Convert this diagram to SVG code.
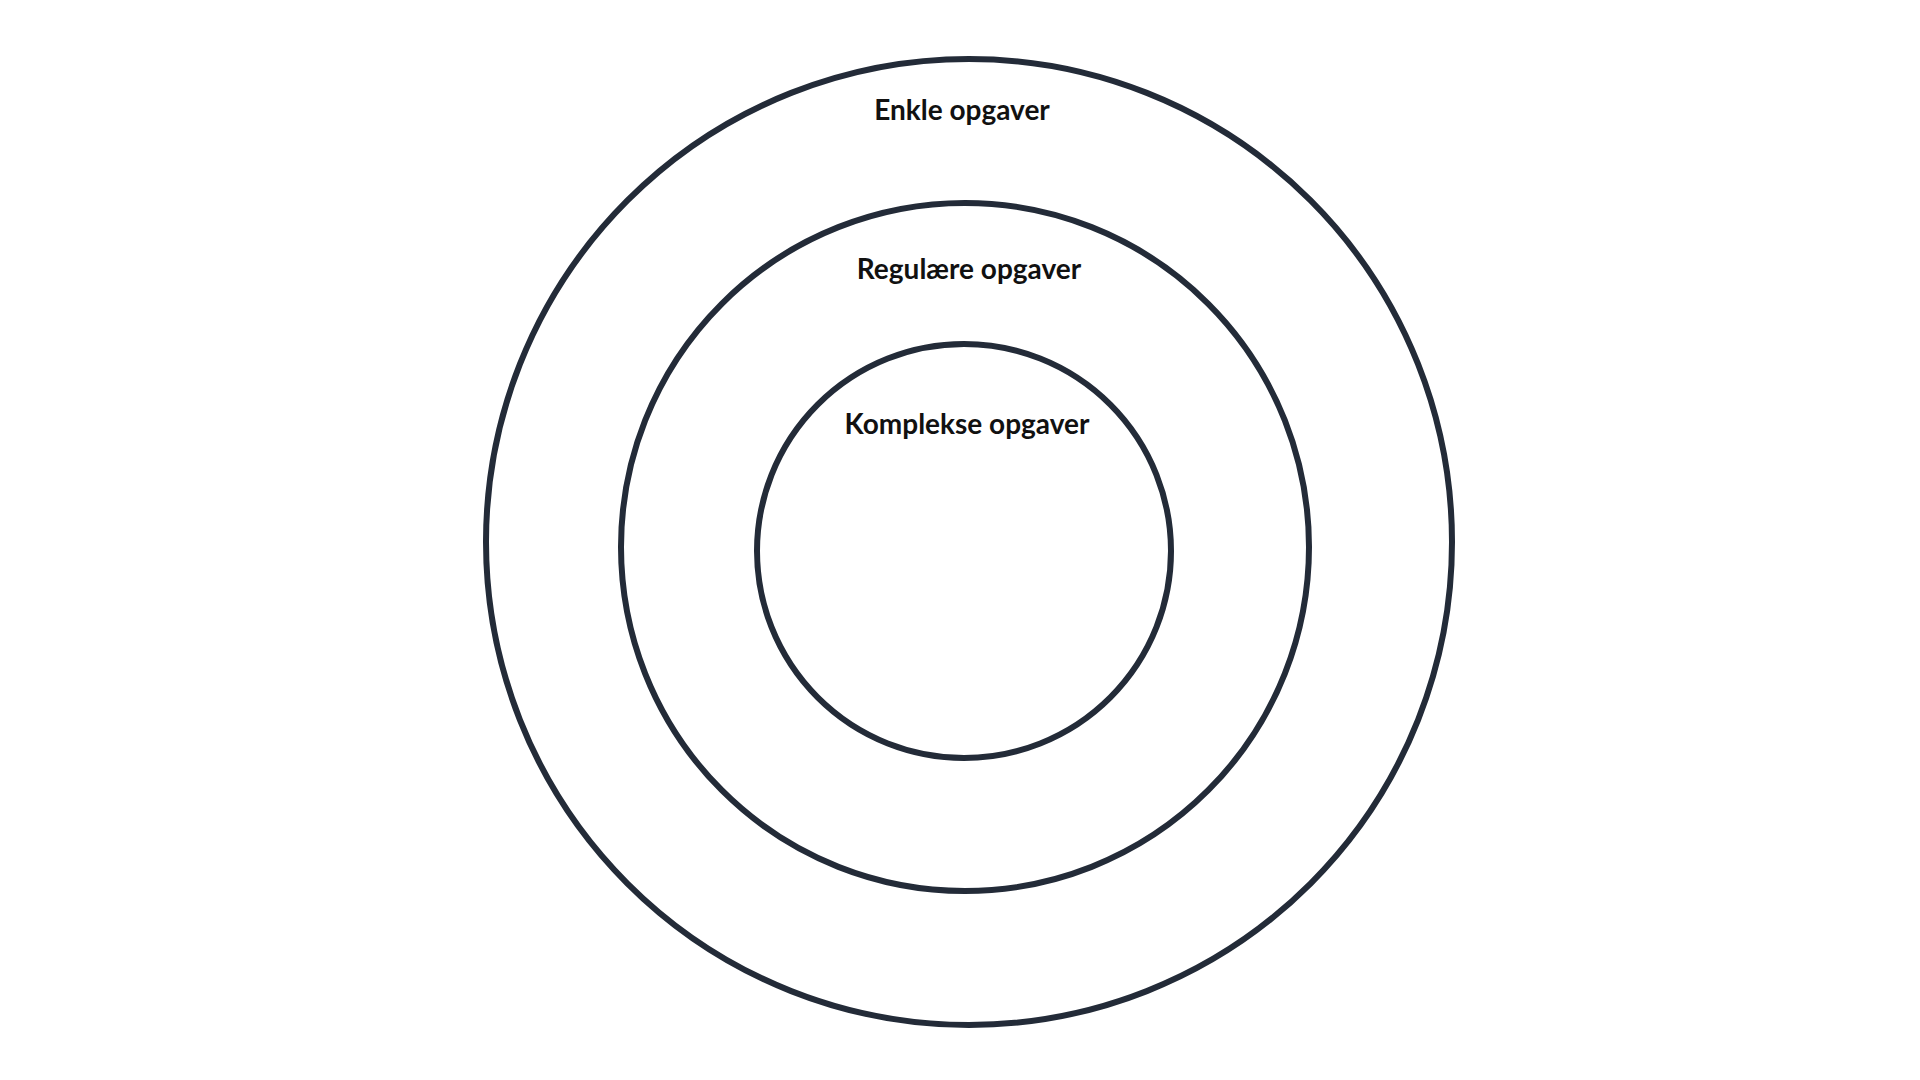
<svg xmlns="http://www.w3.org/2000/svg" width="1920" height="1080" viewBox="0 0 1920 1080">
<style>
.ring{fill:none;stroke:#232b38;stroke-width:6}
.lbl{font-family:Lato,"Open Sans",sans-serif;font-weight:bold;font-size:28px;fill:#111;text-anchor:middle;dominant-baseline:middle}
</style>
<rect width="1920" height="1080" fill="#fff"/>
<g id="outer"><circle class="ring" cx="969" cy="542" r="483"/><text class="lbl" x="962" y="113">Enkle opgaver</text></g>
<g id="middle"><circle class="ring" cx="965" cy="547" r="344"/><text class="lbl" x="969" y="272">Regulære opgaver</text></g>
<g id="inner"><circle class="ring" cx="964" cy="551" r="207"/><text class="lbl" x="967" y="427">Komplekse opgaver</text></g>
<g id="connectors"/>
</svg>
